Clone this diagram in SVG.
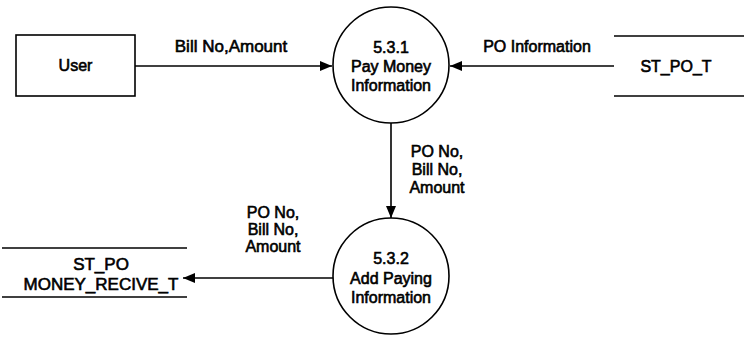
<svg xmlns="http://www.w3.org/2000/svg" width="744" height="338" viewBox="0 0 744 338">
<style>
text{font-family:"Liberation Sans",Arial,sans-serif;font-size:16px;fill:#000;stroke:#000;stroke-width:0.6;text-anchor:middle}
.big{font-size:17px}
.shape{fill:#fff;stroke:#000;stroke-width:1.6}
.line{fill:none;stroke:#000;stroke-width:1.6}
.flow{fill:none;stroke:#000;stroke-width:1.6;marker-end:url(#ah)}
</style>
<defs>
<marker id="ah" viewBox="0 0 12 10" refX="12" refY="5" markerWidth="12" markerHeight="10" markerUnits="userSpaceOnUse" orient="auto">
<path d="M0,0 L12,5 L0,10 Z" fill="#000"/>
</marker>
</defs>
<g id="connectors">
<path class="flow" d="M135,66 L332,66"/>
<path class="flow" d="M614,66 L450,66"/>
<path class="flow" d="M391,123 L391,218"/>
<path class="flow" d="M333,278 L183,278"/>
<text class="big" x="231" y="52">Bill No,Amount</text>
<text x="537" y="52">PO Information</text>
<text x="437" y="157">PO No,</text>
<text x="437" y="175">Bill No,</text>
<text x="437" y="193">Amount</text>
<text x="273" y="218">PO No,</text>
<text x="273" y="235">Bill No,</text>
<text x="273" y="252">Amount</text>
</g>
<g id="user">
<rect class="shape" x="16" y="35" width="119" height="61"/>
<text x="75.5" y="71">User</text>
</g>
<g id="p531">
<circle class="shape" cx="391" cy="65" r="58"/>
<text x="391" y="53">5.3.1</text>
<text x="391" y="72">Pay Money</text>
<text x="391" y="91">Information</text>
</g>
<g id="st_po_t">
<line class="line" x1="614" y1="36" x2="744" y2="36"/>
<line class="line" x1="614" y1="96" x2="744" y2="96"/>
<text x="676" y="72">ST_PO_T</text>
</g>
<g id="p532">
<circle class="shape" cx="391" cy="276" r="58"/>
<text x="391" y="264">5.3.2</text>
<text x="391" y="284">Add Paying</text>
<text x="391" y="303">Information</text>
</g>
<g id="st_po_money">
<line class="line" x1="2" y1="248" x2="187" y2="248"/>
<line class="line" x1="2" y1="297" x2="187" y2="297"/>
<text class="big" x="101" y="270">ST_PO</text>
<text class="big" x="101" y="290">MONEY_RECIVE_T</text>
</g>
</svg>
